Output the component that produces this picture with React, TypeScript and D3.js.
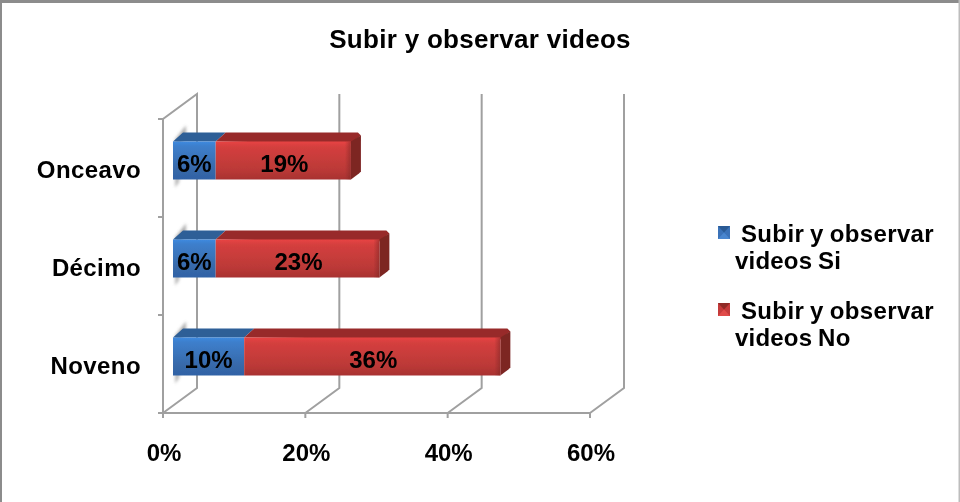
import * as d3 from 'd3';

const categories = ['Onceavo', 'Décimo', 'Noveno'];
const serieSi = [6, 6, 10];
const serieNo = [19, 23, 36];
const xTicks = [0, 20, 40, 60];
const title = 'Subir y observar videos';
const legendItems = [
  { lines: ['Subir y observar', 'videos Si'], light: '#4a86cf', mid: '#3a72b8', dark: '#2a5a94' },
  { lines: ['Subir y observar', 'videos No'], light: '#e04c4a', mid: '#c43a3a', dark: '#8f2a28' },
];

const FONT = '"Liberation Sans", Arial, sans-serif';
const AXIS_COLOR = '#a0a0a0';

// profundidad del piso 3D
const depth = { x: 34, y: -25 };
const barDepth = { x: 10, y: -9 };
const barShift = { x: 10, y: -7 };
const barHeight = 38;

const x = d3.scaleLinear().domain([0, 60]).range([163, 590]);
const y = d3.scaleBand().domain(categories).range([119, 413]);

const poly = (pts: [number, number][]) => {
  const line = d3.line();
  return line(pts) + 'Z';
};

export default function App() {
  const floorY = y.range()[1];
  const topY = y.range()[0];

  return (
    <svg width={960} height={502} style={{ position: 'absolute', left: 0, top: 0, background: '#fff' }}>
      <defs>
        <linearGradient id="blueFront" x1="0" y1="0" x2="0" y2="1">
          <stop offset="0" stopColor="#3f8ae0" />
          <stop offset="0.12" stopColor="#3d7fcc" />
          <stop offset="0.75" stopColor="#3768a8" />
          <stop offset="1" stopColor="#2f62a6" />
        </linearGradient>
        <linearGradient id="redFront" x1="0" y1="0" x2="0" y2="1">
          <stop offset="0" stopColor="#e84444" />
          <stop offset="0.14" stopColor="#d43f3e" />
          <stop offset="0.75" stopColor="#bb3937" />
          <stop offset="1" stopColor="#a83230" />
        </linearGradient>
        <linearGradient id="redEdge" x1="0" y1="0" x2="1" y2="0">
          <stop offset="0" stopColor="#7d2624" stopOpacity={0} />
          <stop offset="1" stopColor="#7d2624" stopOpacity={0.55} />
        </linearGradient>
        <filter id="soft" x="-100%" y="-30%" width="300%" height="160%">
          <feGaussianBlur stdDeviation="1.6" />
        </filter>
        <filter id="scan" x="-2%" y="-2%" width="104%" height="104%">
          <feGaussianBlur stdDeviation="0.35" />
        </filter>
      </defs>

      {/* marco */}
      <rect x={0} y={0} width={960} height={3} fill="#8c8c8c" />
      <rect x={0} y={0} width={2} height={502} fill="#8c8c8c" />
      <rect x={958.5} y={0} width={1.5} height={502} fill="#bdbdbd" />

      <g filter="url(#scan)">
        <text x={480} y={48} textAnchor="middle" fontFamily={FONT} fontWeight="bold" fontSize={26} letterSpacing={0.3} fill="#000">
          {title}
        </text>

        {/* paredes y piso */}
        <g stroke={AXIS_COLOR} strokeWidth={2} fill="none">
          <path d={`M${x(0)},${floorY}V${topY}L${x(0) + depth.x},${topY + depth.y}V${floorY + depth.y}`} />
          <line x1={x(0)} x2={x(60)} y1={floorY} y2={floorY} />
          {xTicks.map(t => (
            <g key={t}>
              <line x1={x(t)} x2={x(t)} y1={floorY} y2={floorY + 5} />
              <path d={`M${x(t)},${floorY}L${x(t) + depth.x},${floorY + depth.y}V${topY + depth.y}`} />
            </g>
          ))}
          {[...categories.map(c => y(c) as number), floorY].map(v => (
            <line key={v} x1={x(0) - 5} x2={x(0)} y1={v} y2={v} />
          ))}
        </g>

        {/* barras */}
        {categories.map((c, i) => {
          const bandMid = (y(c) as number) + y.bandwidth() / 2;
          const cy = bandMid + barShift.y - 0.5;
          const y0 = cy - barHeight / 2;
          const y1 = y0 + barHeight;
          const x0 = x(0) + barShift.x;
          const xa = x(serieSi[i]) + barShift.x;
          const xb = x(serieSi[i] + serieNo[i]) + barShift.x;
          const dx = barDepth.x;
          const dy = barDepth.y;
          return (
            <g key={c}>
              <path d={poly([[x0 + 2, y0 - 2], [x0 + dx + 3, y0 + dy - 7], [x0 + dx + 3, y0 + dy + 6], [x0 + 2, y0 + 6]])} fill="#8a8a8a" opacity={0.7} filter="url(#soft)" />
              <path d={poly([[x0 + 2, y1 - 3], [x0 + 7, y1 - 3], [x0 + 6, y1 + 3], [x0 + 2, y1 + 8]])} fill="#a0a0a0" opacity={0.7} filter="url(#soft)" />
              <path d={poly([[x0, y0], [x0 + dx, y0 + dy], [xa + dx, y0 + dy], [xa, y0]])} fill="#2d5f97" />
              <path d={poly([[xa, y0], [xa + dx, y0 + dy], [xb + dx - 3, y0 + dy], [xb + dx, y0 + dy + 3], [xb, y0 + 2]])} fill="#982b29" />
              <path d={poly([[xb, y0], [xb + dx, y0 + dy + 3], [xb + dx, y1 + dy + 1], [xb + dx - 2, y1 + dy + 3], [xb, y1]])} fill="#7d2624" />
              <rect x={x0} y={y0} width={xa - x0} height={barHeight} fill="url(#blueFront)" />
              <rect x={xa} y={y0} width={xb - xa} height={barHeight} fill="url(#redFront)" />
              <rect x={xb - 6} y={y0} width={6} height={barHeight} fill="url(#redEdge)" />
              <text x={(x0 + xa) / 2} y={cy + 11} textAnchor="middle" fontFamily={FONT} fontWeight="bold" fontSize={24} fill="#000">
                {serieSi[i]}%
              </text>
              <text x={(xa + xb) / 2 + 1} y={cy + 11} textAnchor="middle" fontFamily={FONT} fontWeight="bold" fontSize={24} fill="#000">
                {serieNo[i]}%
              </text>
              <text x={141} y={bandMid + 10} textAnchor="end" fontFamily={FONT} fontWeight="bold" fontSize={24} letterSpacing={0.4} fill="#000">
                {c}
              </text>
            </g>
          );
        })}

        {/* eje x */}
        {xTicks.map(t => (
          <text key={t} x={x(t) + 1} y={461} textAnchor="middle" fontFamily={FONT} fontWeight="bold" fontSize={24} fill="#000">
            {t}%
          </text>
        ))}

        {/* leyenda */}
        {legendItems.map((item, i) => {
          const top = 233 + i * 77;
          const lx = 718;
          const ly = 226 + i * 77;
          return (
            <g key={i}>
              <rect x={lx} y={ly} width={12} height={13} fill={item.mid} />
              <path d={poly([[lx, ly], [lx + 12, ly], [lx + 6, ly + 6.5]])} fill={item.dark} />
              <path d={poly([[lx, ly + 13], [lx + 12, ly + 13], [lx + 6, ly + 6.5]])} fill={item.light} />
              <text x={741} y={top + 9} fontFamily={FONT} fontWeight="bold" fontSize={24} letterSpacing={0.35} wordSpacing={-1} fill="#000">{item.lines[0]}</text>
              <text x={735} y={top + 36} fontFamily={FONT} fontWeight="bold" fontSize={24} letterSpacing={0.2} wordSpacing={-1} fill="#000">{item.lines[1]}</text>
            </g>
          );
        })}
      </g>
    </svg>
  );
}
